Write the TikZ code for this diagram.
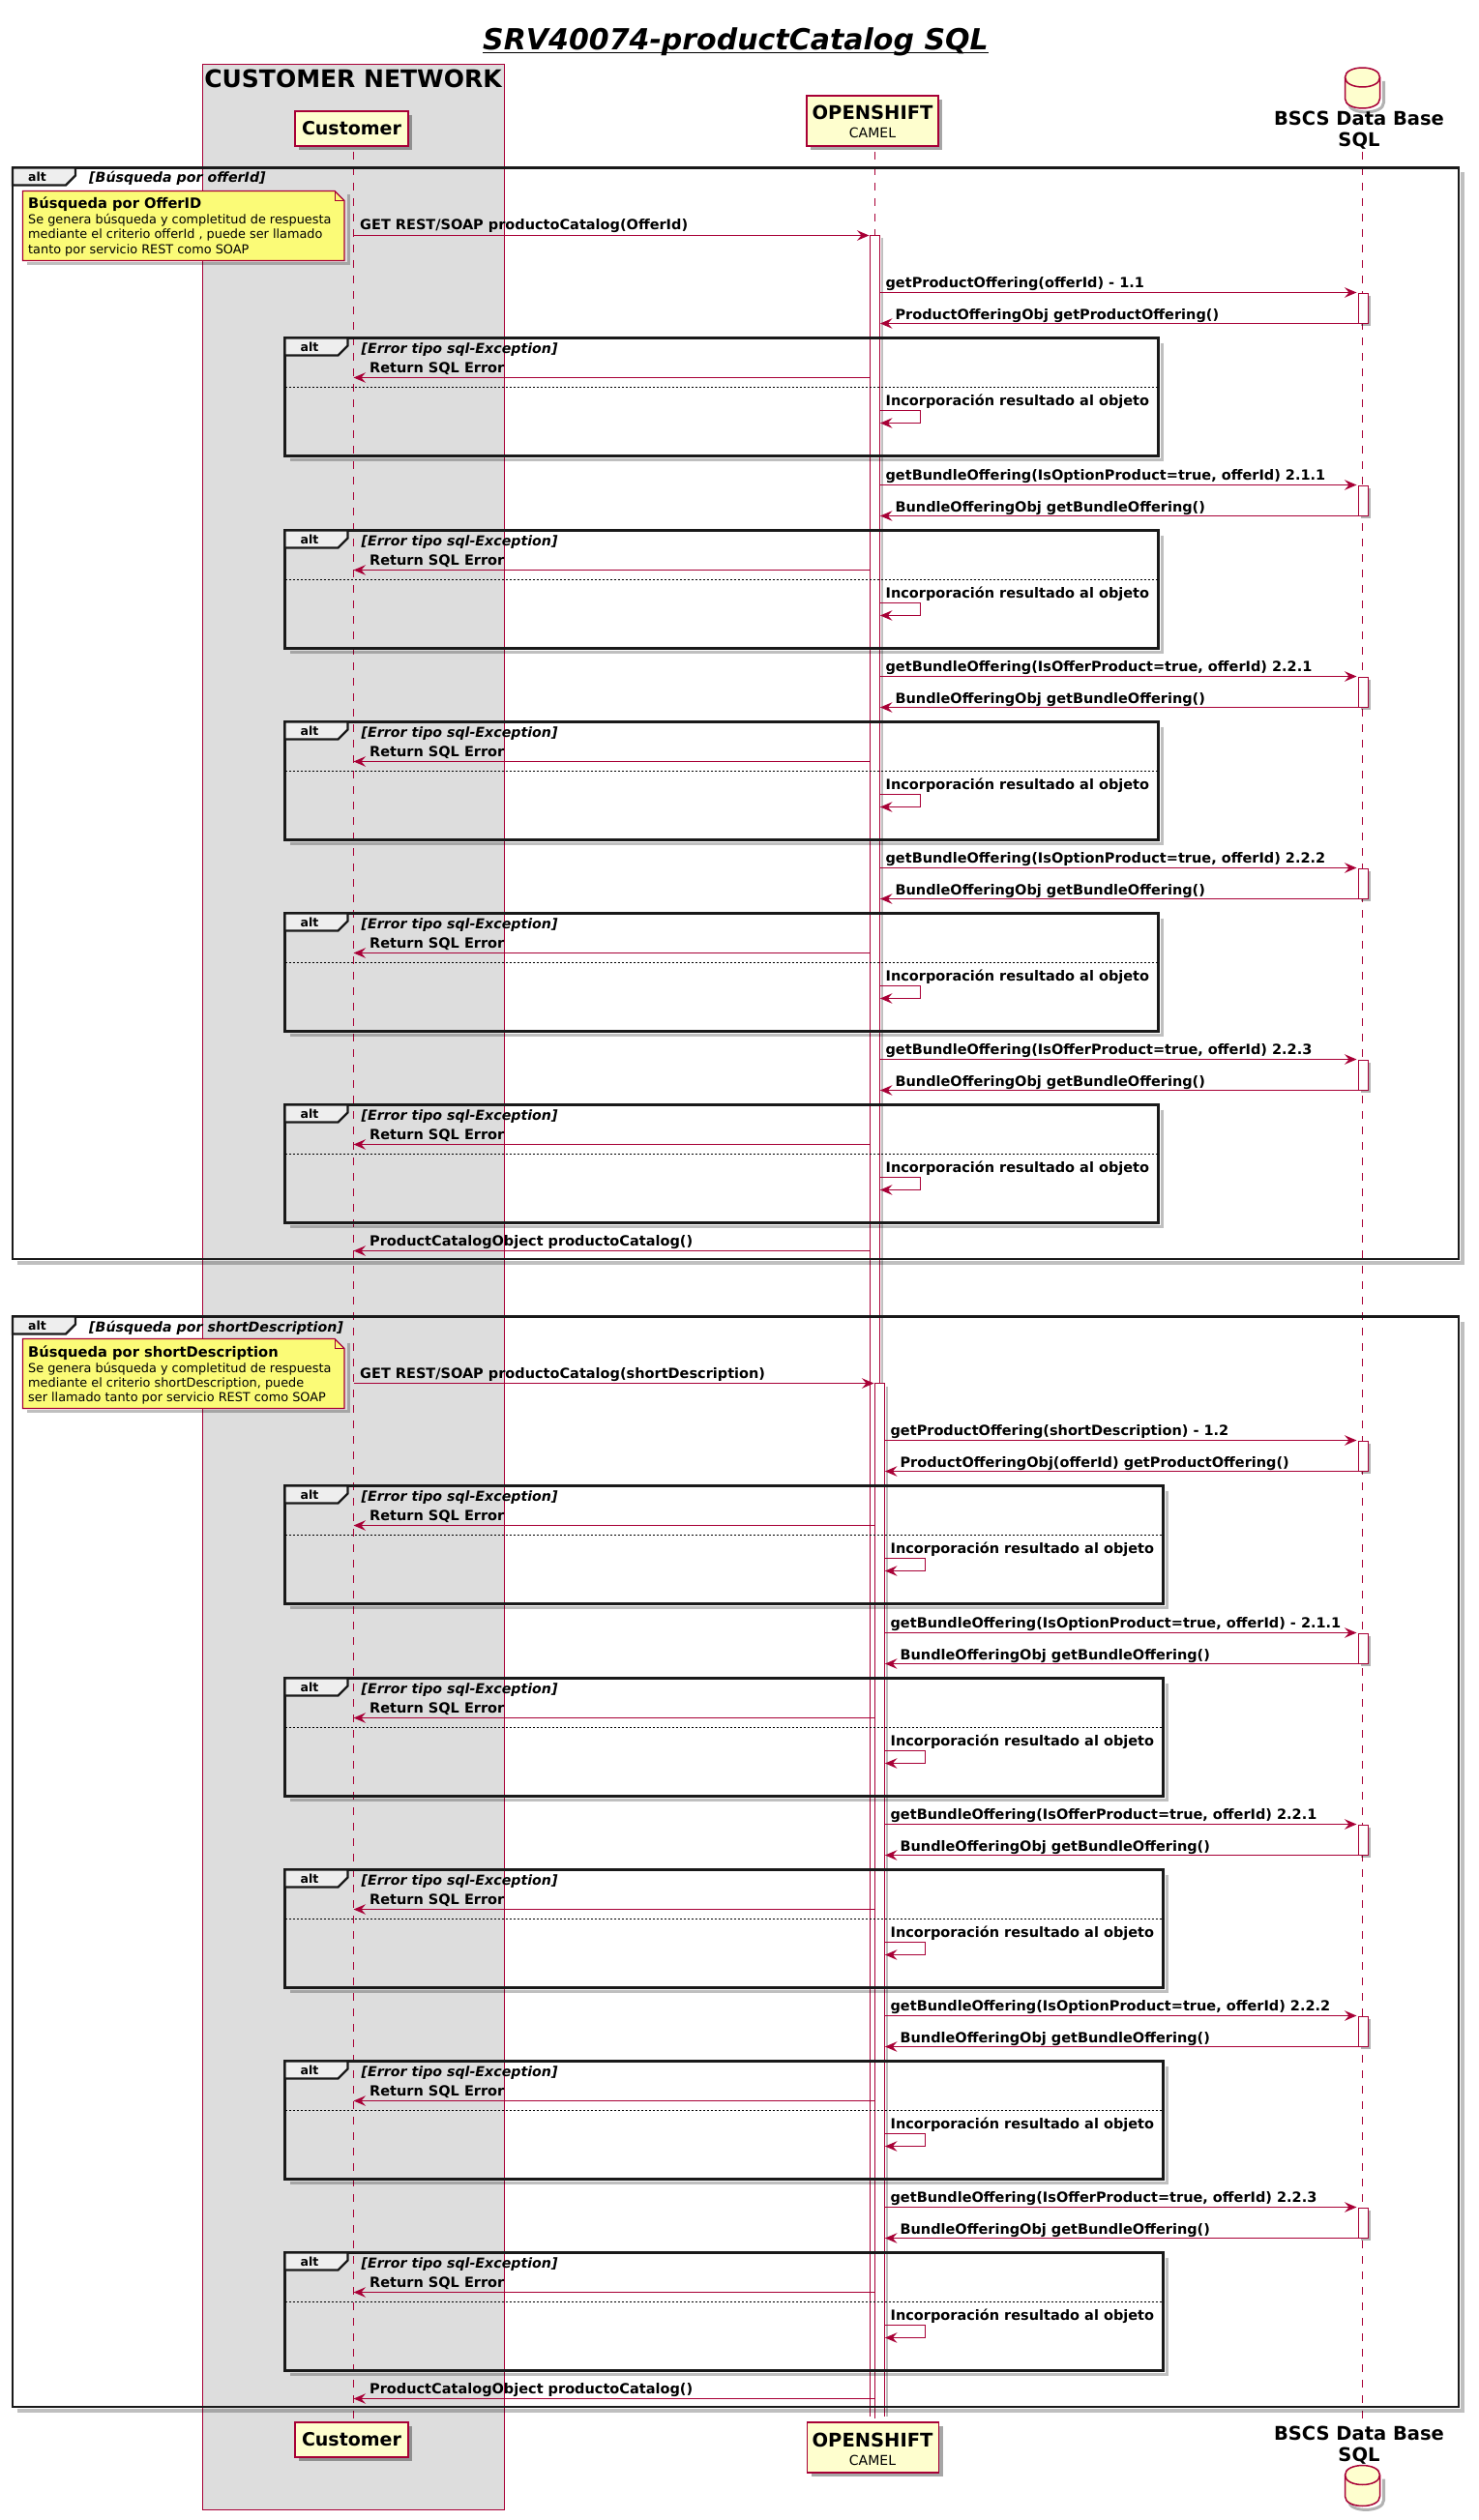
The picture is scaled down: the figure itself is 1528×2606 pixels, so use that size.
\documentclass[tikz,border=0pt]{standalone}
\usepackage{fontspec}
\setmainfont{DejaVu Sans}
\usetikzlibrary{arrows.meta,shadows}

\definecolor{umlred}{HTML}{A80036}
\definecolor{umlback}{HTML}{FEFECE}
\definecolor{umlnote}{HTML}{FBFB77}
\definecolor{umlbox}{HTML}{DDDDDD}
\definecolor{umltab}{HTML}{EEEEEE}

\tikzset{
  softshadow/.style={drop shadow={shadow xshift=4pt,shadow yshift=-4pt,opacity=.35,fill=black}},
  participant/.style={draw=umlred,fill=umlback,line width=1.5pt,inner sep=0pt,softshadow},
  dbdrum/.style={draw=umlred,fill=umlback,line width=1.5pt},
  lifeline/.style={umlred,line width=1pt,dash pattern=on 8pt off 8pt},
  actbar/.style={draw=umlred,fill=white,line width=1pt,inner sep=0pt,anchor=north west,
    drop shadow={shadow xshift=3pt,shadow yshift=-3pt,opacity=.3,fill=black}},
  actopen/.style={fill=white,inner sep=0pt,anchor=north west},
  msgline/.style={umlred,line width=1.3pt,-{Stealth[length=12.5pt,width=10.5pt,inset=4.5pt]}},
  frameline/.style={black!90,line width=2.2pt},
  frameshadow/.style={black,opacity=.25,line width=3.5pt},
  txt/.style={anchor=base west,inner sep=0pt,text=black},
  txtmid/.style={anchor=base,inner sep=0pt,text=black},
  msgtext/.style={txt,font=\fontsize{14.5}{17}\selectfont\bfseries},
  guardtext/.style={txt,font=\fontsize{14.2}{17}\selectfont\bfseries\itshape},
  alttext/.style={txt,font=\fontsize{12.5}{14}\selectfont\bfseries},
  notehead/.style={txt,font=\fontsize{14.7}{17}\selectfont\bfseries},
  notetext/.style={txt,font=\fontsize{12.85}{15}\selectfont},
  nametext/.style={txtmid,font=\fontsize{19.5}{22}\selectfont\bfseries},
}

% database drum: x, top
\newcommand{\dbdrumat}[2]{
  \draw[black,opacity=.3,line width=3pt] (#1+22,#2+14) -- (#1+22,#2+36) .. controls (#1+22,#2+49) and (#1-14,#2+49) .. (#1-14,#2+37);
  \draw[dbdrum] (#1-18,#2+10) .. controls (#1-18,#2-3.3) and (#1+18,#2-3.3) .. (#1+18,#2+10)
    -- (#1+18,#2+32) .. controls (#1+18,#2+45.3) and (#1-18,#2+45.3) .. (#1-18,#2+32) -- cycle;
  \draw[dbdrum,fill=none] (#1-18,#2+10) .. controls (#1-18,#2+23.3) and (#1+18,#2+23.3) .. (#1+18,#2+10);
}

% frame of a group: name, left, top, right, bottom, guard
\newcommand{\altframe}[6]{
  \draw[frameshadow] (#4+4,#3+5) -- (#4+4,#5+4) -- (#2+5,#5+4);
  \draw[frameline] (#2,#3) rectangle (#4,#5);
  \draw[frameline,fill=umltab] (#2,#3) -- (#2+65,#3) -- (#2+65,#3+8) -- (#2+55,#3+18) -- (#2,#3+18) -- cycle;
  \node[alttext] (#1alt) at (#2+16,#3+14) {alt};
  \node[guardtext] (#1guard) at (#2+79,#3+15.5) {#6};
}

% one query: prefix, activation, row, frame right, self x, call, reply
\newcommand{\queryrow}[7]{
  \node[actbar,minimum width=10pt,minimum height=31pt] (#1db) at (1403.5,#3) {};
  \altframe{#1err}{294.5}{#3+47}{#4}{#3+169}{[Error tipo sql-Exception]}
  \coordinate (#1row) at (0,#3);
  \draw[msgline] (#2.east |- #1row) -- ([xshift=-1pt]#1db.north west);
  \node[msgtext] (#1call) at ([xshift=5.5pt,yshift=5pt]#2.east |- #1row) {#6};
  \draw[msgline] (#1db.south west) -- (#2.east |- #1db.south west);
  \node[msgtext] (#1reply) at ([xshift=15.5pt,yshift=4.5pt]#2.east |- #1db.south west) {#7};
  \coordinate (#1fail) at (0,#3+88);
  \draw[msgline] (#2.west |- #1fail) -- (custline |- #1fail);
  \node[msgtext] (#1errtxt) at ([yshift=5pt]382,#3+88) {Return SQL Error};
  \draw[black,line width=1pt,dash pattern=on 2pt off 2pt] (294.5,#3+98) -- (#4,#3+98);
  \node[msgtext] (#1merge) at ([xshift=5.5pt]#2.east |- 0,#3+117) {Incorporación resultado al objeto};
  \coordinate (#1self) at (#2.east |- 0,#3+122);
  \coordinate (#1back) at (#2.east |- 0,#3+135);
  \draw[msgline,-] (#1self) -- (#5,#3+122) -- (#5,#3+135);
  \draw[msgline] (#5,#3+135) -- (#1back);
}

\begin{document}
\begin{tikzpicture}[x=1pt,y=-1pt]
  \fill[white] (0,0) rectangle (1528,2606);
  \path[use as bounding box] (0,0) rectangle (1528,2606);

  % title
  \node[txt,font=\fontsize{30}{34}\selectfont\bfseries\itshape] (title) at (499,52) {SRV40074-productCatalog SQL};
  \draw[line width=1.5pt] ([yshift=-2.5pt]title.base west) -- ([yshift=-2.5pt]title.base east);

  % customer network
  \fill[umlbox] (209.5,67) rectangle (521.5,2595);
  \draw[umlred,line width=1pt] (209.5,67) rectangle (521.5,2595);
  \node[txtmid,font=\fontsize{25}{28}\selectfont\bfseries] (network) at (365,91) {CUSTOMER NETWORK};

  % lifelines
  \node[participant,minimum width=117pt,minimum height=36pt,font=\fontsize{19}{22}\selectfont\bfseries] (customer) at (363.5,133) {Customer};
  \node[participant,minimum width=117pt,minimum height=36pt,font=\fontsize{19}{22}\selectfont\bfseries] (customerend) at (363.5,2523) {Customer};
  \node[participant,minimum width=136pt,minimum height=52pt] (openshift) at (902,125) {};
  \node[participant,minimum width=136pt,minimum height=52pt] (openshiftend) at (902.5,2531) {};
  \dbdrumat{1408.5}{70}
  \dbdrumat{1408.5}{2549.5}
  \foreach \nm/\mid in {openshift/125,openshiftend/2531}{
    \node[nametext] (\nm name) at (902,\mid-1) {OPENSHIFT};
    \node[txtmid,font=\fontsize{14}{15}\selectfont] (\nm sub) at (902,\mid+18) {CAMEL};
  }
  \node[nametext] (bscsa) at (1405,130) {BSCS Data Base};
  \node[nametext] (bscsb) at (1405,152) {SQL};
  \node[nametext] (bscsc) at (1405,2523) {BSCS Data Base};
  \node[nametext] (bscsd) at (1405,2545) {SQL};

  \coordinate (custline) at (365.5,157);
  \coordinate (openline) at (904.5,157);
  \coordinate (bscsline) at (1408.5,157);
  \draw[lifeline] (custline) -- (custline |- customerend.north);
  \draw[lifeline] (openline) -- (openline |- openshiftend.north);
  \draw[lifeline] (bscsline) -- (1408.5,2502);

  % activations of the service
  \node[actopen,minimum width=10pt,minimum height=2255pt] (acta) at (899.5,243.5) {};
  \draw[frameshadow,line width=2.5pt] ([xshift=2pt,yshift=-3pt]acta.north east) -- ([xshift=2pt]acta.south east);
  \draw[umlred,line width=1pt] (acta.south west) -- (acta.north west) -- (acta.north east) -- (acta.south east);
  \node[actopen,minimum width=10pt,minimum height=1068pt] (actb) at (904.5,1430.5) {};
  \draw[frameshadow,line width=2.5pt] ([xshift=2pt,yshift=-3pt]actb.north east) -- ([xshift=2pt]actb.south east);
  \draw[umlred,line width=1pt] (actb.south west) -- (actb.north west) -- (actb.north east) -- (actb.south east);

  % first search
  \altframe{ga}{13}{173.5}{1508}{1302}{[Búsqueda por offerId]}
  \altframe{gb}{13}{1361.5}{1508}{2489}{[Búsqueda por shortDescription]}

  \foreach \top in {197.5,1384.5}{
    \draw[frameshadow,line width=3pt] (360,\top+4) -- (360,\top+75) -- (28,\top+75);
    \draw[umlred,fill=umlnote,line width=1.3pt] (23.5,\top) -- (346,\top) -- (356,\top+10) -- (356,\top+72) -- (23.5,\top+72) -- cycle;
    \draw[umlred,line width=1pt] (346,\top) -- (346,\top+10) -- (356,\top+10);
  }
  \node[notehead] (noteahead) at (29,216) {Búsqueda por OfferID};
  \node[notetext] (noteaone) at (29,232) {Se genera búsqueda y completitud de respuesta};
  \node[notetext] (noteatwo) at (29,247) {mediante el criterio offerId , puede ser llamado};
  \node[notetext] (noteathree) at (29,262) {tanto por servicio REST como SOAP};
  \node[notehead] (notebhead) at (29,1403) {Búsqueda por shortDescription};
  \node[notetext] (notebone) at (29,1419) {Se genera búsqueda y completitud de respuesta};
  \node[notetext] (notebtwo) at (29,1434) {mediante el criterio shortDescription, puede};
  \node[notetext] (notebthree) at (29,1449) {ser llamado tanto por servicio REST como SOAP};

  \coordinate (geta) at (0,243.5);
  \draw[msgline] (custline |- geta) -- ([xshift=-1pt]acta.west |- geta);
  \node[msgtext] (getatxt) at (372,238) {GET REST/SOAP productoCatalog(OfferId)};
  \foreach \k/\call/\reply in {
      0/{getProductOffering(offerId) - 1.1}/{ProductOfferingObj getProductOffering()},
      1/{getBundleOffering(IsOptionProduct=true, offerId) 2.1.1}/{BundleOfferingObj getBundleOffering()},
      2/{getBundleOffering(IsOfferProduct=true, offerId) 2.2.1}/{BundleOfferingObj getBundleOffering()},
      3/{getBundleOffering(IsOptionProduct=true, offerId) 2.2.2}/{BundleOfferingObj getBundleOffering()},
      4/{getBundleOffering(IsOfferProduct=true, offerId) 2.2.3}/{BundleOfferingObj getBundleOffering()}}{
    \pgfmathsetmacro{\rowy}{round(302.3+\k*198.25)+.5}
    \queryrow{a\k}{acta}{\rowy}{1197.5}{951.5}{\call}{\reply}
  }
  \coordinate (enda) at (0,1293.5);
  \draw[msgline] (acta.west |- enda) -- (custline |- enda);
  \node[msgtext] (endatxt) at (382,1288.5) {ProductCatalogObject productoCatalog()};

  % second search
  \coordinate (getb) at (0,1430.5);
  \draw[msgline] (custline |- getb) -- ([xshift=-1pt]actb.west |- getb);
  \node[msgtext] (getbtxt) at (372,1425) {GET REST/SOAP productoCatalog(shortDescription)};
  \foreach \k/\call/\reply in {
      0/{getProductOffering(shortDescription) - 1.2}/{ProductOfferingObj(offerId) getProductOffering()},
      1/{getBundleOffering(IsOptionProduct=true, offerId) - 2.1.1}/{BundleOfferingObj getBundleOffering()},
      2/{getBundleOffering(IsOfferProduct=true, offerId) 2.2.1}/{BundleOfferingObj getBundleOffering()},
      3/{getBundleOffering(IsOptionProduct=true, offerId) 2.2.2}/{BundleOfferingObj getBundleOffering()},
      4/{getBundleOffering(IsOfferProduct=true, offerId) 2.2.3}/{BundleOfferingObj getBundleOffering()}}{
    \pgfmathsetmacro{\rowy}{round(1489.3+\k*198.25)+.5}
    \queryrow{b\k}{actb}{\rowy}{1202.5}{956.5}{\call}{\reply}
  }
  \coordinate (endb) at (0,2480.5);
  \draw[msgline] (actb.west |- endb) -- (custline |- endb);
  \node[msgtext] (endbtxt) at (382,2475.5) {ProductCatalogObject productoCatalog()};
\end{tikzpicture}
\end{document}
